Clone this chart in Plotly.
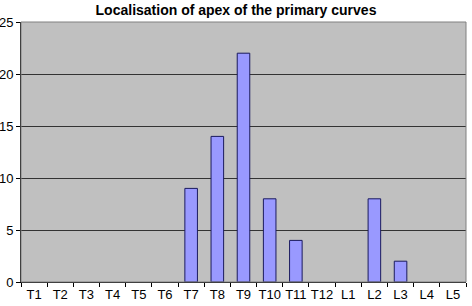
import plotly.graph_objects as go

categories = ["T1","T2","T3","T4","T5","T6","T7","T8","T9","T10","T11","T12","L1","L2","L3","L4","L5"]
counts = [0,0,0,0,0,0,9,14,22,8,4,0,0,8,2,0,0]
y_ticks = [0,5,10,15,20,25]

fig = go.Figure(go.Bar(
    x=categories, y=counts,
    marker=dict(color="#9999FF",
                line=dict(color="#1a1a5e", width=[1 if v > 0 else 0 for v in counts])),
))
fig.update_layout(
    width=472, height=306,
    margin=dict(l=21, r=6, t=22, b=24),
    paper_bgcolor="white", plot_bgcolor="#C0C0C0",
    bargap=0.52,
    showlegend=False,
    font=dict(family="Liberation Sans, Arial", size=13, color="black"),
    title=dict(text="<b>Localisation of apex of the primary curves</b>", x=0.5, xanchor="center",
               y=0.967, yanchor="middle", font=dict(size=14)),
)
fig.update_xaxes(type="category", tickson="boundaries", ticks="outside", ticklen=4,
                 tickangle=0, automargin=False,
                 tickcolor="black", showline=True, linecolor="black", linewidth=1,
                 showgrid=False, mirror=False)
fig.update_yaxes(range=[0,25], tickvals=y_ticks, ticks="outside", ticklen=4, tickcolor="black",
                 automargin=False,
                 showline=True, linecolor="black", linewidth=1, showgrid=True, gridcolor="#333333",
                 gridwidth=1, zeroline=False)
fig.add_shape(type="rect", xref="paper", yref="paper", x0=0, y0=0, x1=1, y1=1,
              line=dict(color="#808080", width=1))
fig.write_html("out.html", config={"displayModeBar": False},
               post_script="document.body.style.margin='0';")
